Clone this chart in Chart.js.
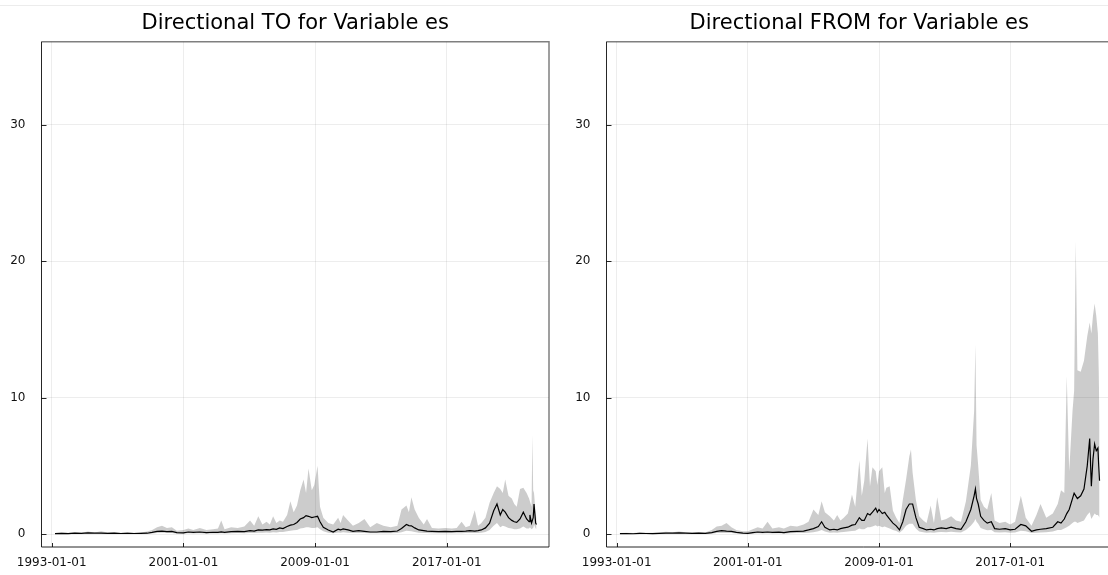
<!DOCTYPE html>
<html>
<head>
<meta charset="utf-8">
<script src="https://cdn.jsdelivr.net/npm/chart.js@4.4.0/dist/chart.umd.min.js"></script>
<style>
	html, body { margin: 0; padding: 0; background: #fff; overflow: hidden; width: 1108px; height: 575px; }
	.topline { position: absolute; left: 0; top: 5px; width: 1108px; height: 1px; background: #ececec; }
	.panel { position: absolute; top: 0; width: 560px; height: 575px; }
	#toChart { left: 0; }
	#fromChart { left: 560px; }
</style>
</head>
<body>
<div class="topline"></div>
<canvas id="toChart" class="panel" width="560" height="575"></canvas>
<canvas id="fromChart" class="panel" width="560" height="575"></canvas>
<script>
// tick labels
const tickYears = [1993, 2001, 2009, 2017];
const yTicks = [0, 10, 20, 30];
const titles = ["Directional TO for Variable es", "Directional FROM for Variable es"];

// Directional TO (decimal years, mean line, band low, band high)
const toDates = [
	1993.2, 1993.6, 1994.0, 1994.4, 1994.8, 1995.2, 1995.6, 1996.0, 1996.4, 1996.8,
	1997.2, 1997.6, 1998.0, 1998.4, 1998.8, 1999.1, 1999.4, 1999.7, 2000.0, 2000.3,
	2000.6, 2001.0, 2001.3, 2001.6, 2002.0, 2002.4, 2002.8, 2003.1, 2003.3, 2003.5,
	2003.9, 2004.3, 2004.7, 2005.05, 2005.3, 2005.55, 2005.8, 2006.05, 2006.25, 2006.45,
	2006.65, 2006.85, 2007.05, 2007.3, 2007.5, 2007.7, 2007.9, 2008.1, 2008.3, 2008.45,
	2008.6, 2008.8, 2008.95, 2009.15, 2009.3, 2009.5, 2009.8, 2010.1, 2010.4, 2010.55,
	2010.7, 2011.0, 2011.3, 2011.65, 2012.0, 2012.35, 2012.75, 2013.15, 2013.6, 2014.0,
	2014.25, 2014.55, 2014.7, 2014.85, 2015.05, 2015.3, 2015.6, 2015.8, 2016.1, 2016.5,
	2016.9, 2017.3, 2017.6, 2017.9, 2018.15, 2018.4, 2018.7, 2018.9, 2019.1, 2019.35,
	2019.6, 2019.85, 2020.05, 2020.25, 2020.4, 2020.55, 2020.75, 2020.95, 2021.1, 2021.25,
	2021.45, 2021.65, 2021.85, 2022.0, 2022.05, 2022.15, 2022.2, 2022.25, 2022.3, 2022.4,
	2022.45,
];
const toMean = [
	0.03, 0.05, 0.03, 0.06, 0.05, 0.08, 0.06, 0.07, 0.05, 0.06,
	0.04, 0.05, 0.04, 0.05, 0.06, 0.12, 0.2, 0.22, 0.18, 0.2,
	0.1, 0.08, 0.15, 0.12, 0.15, 0.1, 0.13, 0.12, 0.16, 0.12,
	0.18, 0.2, 0.18, 0.25, 0.22, 0.3, 0.28, 0.32, 0.3, 0.38,
	0.35, 0.45, 0.4, 0.55, 0.65, 0.7, 0.85, 1.1, 1.2, 1.35,
	1.3, 1.2, 1.25, 1.3, 0.9, 0.5, 0.3, 0.15, 0.35, 0.3,
	0.38, 0.3, 0.2, 0.25, 0.2, 0.15, 0.15, 0.2, 0.18, 0.22,
	0.4, 0.7, 0.62, 0.6, 0.45, 0.3, 0.25, 0.22, 0.2, 0.18,
	0.2, 0.18, 0.2, 0.2, 0.22, 0.25, 0.22, 0.25, 0.3, 0.45,
	0.8, 1.7, 2.2, 1.4, 1.8, 1.6, 1.2, 1.0, 0.9, 0.85,
	1.1, 1.6, 1.1, 0.9, 1.4, 0.8, 1.0, 1.2, 2.2, 0.8,
	0.7,
];
const toLow = [
	0, 0.01, 0, 0.02, 0.01, 0.03, 0.02, 0.02, 0.01, 0.02,
	0.01, 0.01, 0, 0.01, 0.02, 0.04, 0.08, 0.1, 0.07, 0.08,
	0.03, 0.02, 0.05, 0.04, 0.05, 0.03, 0.04, 0.04, 0.05, 0.04,
	0.06, 0.07, 0.06, 0.08, 0.08, 0.1, 0.1, 0.12, 0.1, 0.14,
	0.12, 0.15, 0.15, 0.2, 0.25, 0.28, 0.3, 0.4, 0.45, 0.5,
	0.5, 0.45, 0.45, 0.5, 0.35, 0.2, 0.1, 0.05, 0.12, 0.1,
	0.13, 0.1, 0.07, 0.08, 0.07, 0.05, 0.05, 0.06, 0.06, 0.07,
	0.14, 0.25, 0.22, 0.2, 0.15, 0.1, 0.08, 0.07, 0.06, 0.06,
	0.06, 0.05, 0.06, 0.06, 0.07, 0.08, 0.07, 0.08, 0.1, 0.15,
	0.3, 0.6, 0.8, 0.5, 0.6, 0.55, 0.45, 0.4, 0.35, 0.35,
	0.4, 0.55, 0.4, 0.4, 0.5, 0.35, 0.4, 0.45, 0.7, 0.4,
	0.35,
];
const toHigh = [
	0.08, 0.12, 0.1, 0.14, 0.1, 0.18, 0.12, 0.2, 0.12, 0.14,
	0.1, 0.15, 0.1, 0.12, 0.18, 0.3, 0.5, 0.6, 0.45, 0.5,
	0.25, 0.3, 0.4, 0.3, 0.45, 0.3, 0.35, 0.4, 1.0, 0.35,
	0.5, 0.45, 0.55, 1.0, 0.6, 1.3, 0.7, 0.9, 0.7, 1.3,
	0.8, 1.0, 0.9, 1.4, 2.4, 1.6, 2.1, 3.2, 4.0, 3.0,
	4.8, 3.2, 3.6, 5.0, 2.0, 1.2, 0.8, 0.7, 1.2, 0.8,
	1.4, 1.0, 0.6, 0.8, 1.1, 0.5, 0.8, 0.6, 0.5, 0.6,
	1.8, 2.1, 1.6, 2.7, 1.8, 1.2, 0.7, 1.1, 0.45, 0.4,
	0.45, 0.4, 0.45, 0.9, 0.5, 0.6, 1.75, 0.6, 0.8, 1.2,
	2.3, 3.0, 3.5, 3.3, 3.0, 4.0, 2.8, 2.6, 2.2, 2.0,
	3.3, 3.4, 3.0, 2.6, 2.4, 2.0, 7.3, 3.2, 3.0, 1.5,
	1.2,
];

// Directional FROM
const fromDates = [
	1993.2, 1993.6, 1994.0, 1994.4, 1994.8, 1995.2, 1995.6, 1996.0, 1996.4, 1996.8,
	1997.2, 1997.6, 1998.0, 1998.4, 1998.8, 1999.1, 1999.4, 1999.7, 2000.0, 2000.3,
	2000.7, 2001.0, 2001.3, 2001.6, 2001.9, 2002.2, 2002.5, 2002.9, 2003.2, 2003.6,
	2004.0, 2004.4, 2004.7, 2005.0, 2005.3, 2005.5, 2005.7, 2006.0, 2006.25, 2006.45,
	2006.65, 2006.85, 2007.1, 2007.35, 2007.55, 2007.8, 2007.95, 2008.1, 2008.3, 2008.45,
	2008.6, 2008.8, 2008.9, 2009.0, 2009.2, 2009.35, 2009.45, 2009.65, 2009.85, 2010.05,
	2010.25, 2010.45, 2010.65, 2010.85, 2010.95, 2011.05, 2011.25, 2011.45, 2011.7, 2011.9,
	2012.15, 2012.35, 2012.55, 2012.8, 2013.1, 2013.4, 2013.7, 2014.0, 2014.3, 2014.6,
	2014.8, 2014.88, 2014.95, 2015.05, 2015.2, 2015.4, 2015.6, 2015.85, 2016.05, 2016.35,
	2016.7, 2017.0, 2017.3, 2017.65, 2017.95, 2018.3, 2018.6, 2018.85, 2019.2, 2019.6,
	2019.9, 2020.1, 2020.3, 2020.45, 2020.6, 2020.8, 2020.9, 2021.0, 2021.1, 2021.3,
	2021.5, 2021.7, 2021.85, 2021.95, 2022.05, 2022.15, 2022.25, 2022.35, 2022.4, 2022.45,
];
const fromMean = [
	0.03, 0.04, 0.02, 0.05, 0.04, 0.03, 0.05, 0.07, 0.06, 0.08,
	0.06, 0.05, 0.07, 0.05, 0.1, 0.2, 0.25, 0.22, 0.2, 0.12,
	0.06, 0.05, 0.1, 0.15, 0.12, 0.15, 0.12, 0.14, 0.1, 0.18,
	0.2, 0.22, 0.3, 0.4, 0.55, 0.9, 0.5, 0.3, 0.35, 0.3,
	0.4, 0.45, 0.5, 0.65, 0.7, 1.2, 1.0, 1.0, 1.5, 1.4,
	1.6, 1.9, 1.6, 1.8, 1.5, 1.6, 1.4, 1.1, 0.8, 0.6,
	0.3, 0.9, 1.8, 2.2, 2.2, 2.2, 1.2, 0.5, 0.4, 0.3,
	0.35, 0.3, 0.4, 0.45, 0.4, 0.5, 0.4, 0.35, 0.9, 1.8,
	2.8, 3.3, 2.6, 2.2, 1.3, 1.0, 0.8, 0.9, 0.4, 0.35,
	0.4, 0.3, 0.35, 0.7, 0.6, 0.2, 0.3, 0.35, 0.4, 0.5,
	0.9, 0.8, 1.1, 1.5, 1.8, 2.6, 3.0, 2.8, 2.6, 2.8,
	3.3, 5.0, 7.0, 3.5, 5.5, 6.6, 6.1, 6.3, 5.0, 3.9,
];
const fromLow = [
	0, 0, 0, 0.01, 0.01, 0, 0.01, 0.02, 0.02, 0.02,
	0.02, 0.01, 0.02, 0.01, 0.03, 0.07, 0.08, 0.08, 0.07, 0.04,
	0.02, 0.01, 0.03, 0.05, 0.04, 0.05, 0.04, 0.05, 0.03, 0.06,
	0.07, 0.07, 0.1, 0.14, 0.2, 0.3, 0.18, 0.1, 0.12, 0.1,
	0.14, 0.15, 0.18, 0.22, 0.25, 0.4, 0.35, 0.35, 0.5, 0.5,
	0.55, 0.65, 0.55, 0.6, 0.5, 0.55, 0.5, 0.4, 0.3, 0.22,
	0.1, 0.3, 0.6, 0.75, 0.75, 0.75, 0.4, 0.18, 0.14, 0.1,
	0.12, 0.1, 0.14, 0.15, 0.14, 0.17, 0.14, 0.12, 0.3, 0.6,
	0.9, 1.1, 0.9, 0.75, 0.45, 0.35, 0.28, 0.3, 0.14, 0.12,
	0.14, 0.1, 0.12, 0.25, 0.2, 0.07, 0.1, 0.12, 0.14, 0.18,
	0.3, 0.3, 0.4, 0.5, 0.6, 0.8, 0.9, 0.9, 0.8, 0.9,
	1.0, 1.4, 1.6, 1.1, 1.3, 1.5, 1.4, 1.4, 1.3, 1.2,
];
const fromHigh = [
	0.08, 0.1, 0.08, 0.12, 0.1, 0.1, 0.12, 0.16, 0.14, 0.18,
	0.14, 0.12, 0.15, 0.12, 0.3, 0.55, 0.6, 0.8, 0.5, 0.3,
	0.2, 0.2, 0.35, 0.5, 0.4, 0.9, 0.4, 0.5, 0.4, 0.6,
	0.55, 0.7, 0.9, 1.8, 1.4, 2.4, 1.6, 1.3, 1.0, 1.4,
	1.0, 1.2, 1.5, 2.9, 2.0, 5.4, 2.8, 3.9, 7.0, 3.5,
	4.9, 4.6, 3.6, 4.6, 4.9, 3.0, 3.4, 3.5, 1.7, 1.2,
	0.8, 2.5, 4.0, 5.7, 6.2, 4.5, 2.5, 1.3, 1.0, 0.8,
	2.1, 0.8, 2.7, 1.0, 1.1, 1.3, 1.0, 0.9, 2.4, 5.0,
	9.0, 13.9, 6.5, 5.0, 2.5, 2.0, 1.8, 3.0, 1.0, 0.8,
	0.9, 0.7, 0.9, 2.8, 1.2, 0.6, 1.4, 2.2, 1.2, 1.5,
	2.2, 3.2, 3.0, 11.6, 4.6, 9.0, 10.5, 21.5, 12.0, 11.9,
	12.7, 14.5, 15.5, 14.7, 16.0, 16.9, 16.0, 14.7, 12.0, 8.0,
];

const xMin = 1992.38;
const xMax = 2023.21;
const yMin = -0.95;
const yMax = 36.08;
const font = "DejaVu Sans";
const bandColor = "rgba(0, 0, 0, 0.2)";
const gridColor = "rgba(0, 0, 0, 0.07)";

const pts = (xs, ys) => xs.map((x, i) => ({ x: x, y: ys[i] }));

// box frame and inward tick marks like the original plot
// (the right panel is cut off at the image edge, so no right side there)
const frame = {
	id: "frame",
	afterDatasetsDraw(chart, args, opts) {
		const { ctx, chartArea: a, scales } = chart;
		ctx.save();
		ctx.strokeStyle = "rgba(0, 0, 0, 0.85)";
		ctx.lineWidth = 1;
		ctx.beginPath();
		yTicks.forEach((v) => {
			const y = Math.round(scales.y.getPixelForValue(v)) + 0.5;
			ctx.moveTo(a.left, y);
			ctx.lineTo(a.left + 5, y);
		});
		tickYears.forEach((v) => {
			const x = Math.round(scales.x.getPixelForValue(v)) + 0.5;
			ctx.moveTo(x, a.bottom);
			ctx.lineTo(x, a.bottom - 4);
		});
		ctx.moveTo(a.left, a.top);
		ctx.lineTo(a.left, a.bottom);
		ctx.lineTo(opts.right ? a.right : chart.width, a.bottom);
		ctx.stroke();
		ctx.strokeStyle = "rgba(0, 0, 0, 0.5)";
		ctx.lineWidth = 1.5;
		ctx.beginPath();
		ctx.moveTo(a.left, a.top);
		if (opts.right) {
			ctx.lineTo(a.right, a.top);
			ctx.lineTo(a.right, a.bottom);
		} else {
			ctx.lineTo(chart.width, a.top);
		}
		ctx.stroke();
		ctx.restore();
	},
};

const makeChart = (id, title, dates, mean, low, high, yWidth, padRight, showRight) => {
	return new Chart(document.getElementById(id), {
		type: "line",
		data: {
			datasets: [
				{
					data: pts(dates, mean),
					borderColor: "#000",
					borderWidth: 1.2,
					pointRadius: 0,
					fill: false,
					order: 0,
				},
				{
					data: pts(dates, high),
					borderColor: "transparent",
					borderWidth: 0,
					backgroundColor: bandColor,
					pointRadius: 0,
					fill: "+1",
					order: 1,
				},
				{
					data: pts(dates, low),
					borderColor: "transparent",
					borderWidth: 0,
					pointRadius: 0,
					fill: false,
					order: 2,
				},
			],
		},
		options: {
			responsive: false,
			animation: false,
			events: [],
			layout: { padding: { left: 0, right: padRight, top: 0, bottom: 0 } },
			plugins: {
				legend: { display: false },
				tooltip: { enabled: false },
				frame: { right: showRight },
				title: {
					display: true,
					text: title,
					fullSize: false,
					color: "#000",
					font: { family: font, size: 21, weight: "normal", lineHeight: 1.2 },
					padding: { top: 11, bottom: 5.5 },
				},
			},
			scales: {
				x: {
					type: "linear",
					min: xMin,
					max: xMax,
					afterBuildTicks: (s) => {
						s.ticks = tickYears.map((v) => ({ value: v }));
					},
					afterFit: (s) => {
						s.height = 28;
					},
					border: { display: false },
					grid: { color: gridColor, drawTicks: false },
					ticks: {
						padding: 9,
						color: "#111",
						autoSkip: false,
						maxRotation: 0,
						font: { family: font, size: 12 },
						callback: (v) => v + "-01-01",
					},
				},
				y: {
					min: yMin,
					max: yMax,
					afterBuildTicks: (s) => {
						s.ticks = yTicks.map((v) => ({ value: v }));
					},
					afterFit: (s) => {
						s.width = yWidth;
					},
					border: { display: false },
					grid: { color: gridColor, drawTicks: false },
					ticks: {
						padding: 16,
						color: "#111",
						font: { family: font, size: 12 },
					},
				},
			},
		},
		plugins: [frame],
	});
};

makeChart("toChart", titles[0], toDates, toMean, toLow, toHigh, 41.5, 11, true);
makeChart("fromChart", titles[1], fromDates, fromMean, fromLow, fromHigh, 46.5, 8, false);
</script>
</body>
</html>
